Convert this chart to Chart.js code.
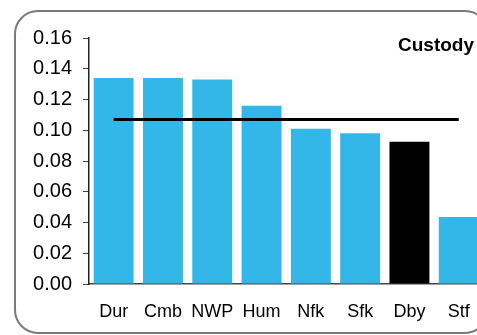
<!DOCTYPE html>
<html>
<head>
<meta charset="utf-8">
<script src="https://cdn.jsdelivr.net/npm/chart.js@4.4.1/dist/chart.umd.min.js"></script>
<style>
  body { margin: 0; overflow: hidden; background: #fff; }
  #wrap { position: absolute; left: 0; top: 0; width: 500px; height: 335px; }
  #frame {
    position: absolute; left: 14px; top: 10px; width: 471px; height: 320px;
    border: 2px solid #7a7a7a; border-radius: 24px; pointer-events: none;
  }
</style>
</head>
<body>
<div id="wrap">
  <canvas id="myChart" width="500" height="335"></canvas>
  <div id="frame"></div>
</div>
<script>
// areas along the bottom
const areas = ["Dur", "Cmb", "NWP", "Hum", "Nfk", "Sfk", "Dby", "Stf"];
// rate per area
const rates = [0.134, 0.134, 0.133, 0.116, 0.101, 0.098, 0.0925, 0.0436];
// the flat black line across the bars
const average = [0.107, 0.107, 0.107, 0.107, 0.107, 0.107, 0.107, 0.107];
const highlight = "Dby";
const yTicks = [0, 0.02, 0.04, 0.06, 0.08, 0.10, 0.12, 0.14, 0.16];

const barColours = areas.map(a => a === highlight ? "#000000" : "#33b7e8");

// the title sits near the right edge of the frame, not the canvas
const titlePlugin = {
    id: "custodyTitle",
    afterDraw(chart) {
        const ctx = chart.ctx;
        ctx.save();
        ctx.font = "bold 19px 'Liberation Sans', Arial, sans-serif";
        ctx.fillStyle = "#000";
        ctx.textAlign = "right";
        ctx.textBaseline = "alphabetic";
        ctx.fillText("Custody", 474, 51);
        ctx.restore();
    }
};

new Chart(document.getElementById("myChart"), {
    data: {
        labels: areas,
        datasets: [
            {
                type: "line",
                data: average,
                borderColor: "#000",
                borderWidth: 3,
                pointRadius: 0,
                order: 0
            },
            {
                type: "bar",
                data: rates,
                backgroundColor: barColours,
                categoryPercentage: 0.9,
                barPercentage: 0.9,
                order: 1
            }
        ]
    },
    options: {
        responsive: false,
        animation: false,
        layout: { padding: { left: 0, right: 16.6, top: 38, bottom: 0 } },
        plugins: { legend: { display: false }, tooltip: { enabled: false } },
        scales: {
            x: {
                grid: { display: false, drawTicks: false },
                border: { display: true, color: "#444", width: 1.5 },
                ticks: {
                    color: "#000",
                    padding: 17,
                    maxRotation: 0,
                    font: { family: "'Liberation Sans', Arial, sans-serif", size: 18 }
                },
                afterFit(scale) { scale.height = 51; }
            },
            y: {
                min: 0,
                max: 0.16,
                afterBuildTicks(scale) { scale.ticks = yTicks.map(v => ({ value: v })); },
                grid: { drawOnChartArea: false, drawTicks: true, tickLength: 6, color: "#444" },
                border: { display: true, color: "#222", width: 1.5 },
                ticks: {
                    color: "#000",
                    padding: 11,
                    callback: v => v.toFixed(2),
                    font: { family: "'Liberation Sans', Arial, sans-serif", size: 20 }
                },
                afterFit(scale) { scale.width = 89; }
            }
        }
    },
    plugins: [titlePlugin]
});
</script>
</body>
</html>
